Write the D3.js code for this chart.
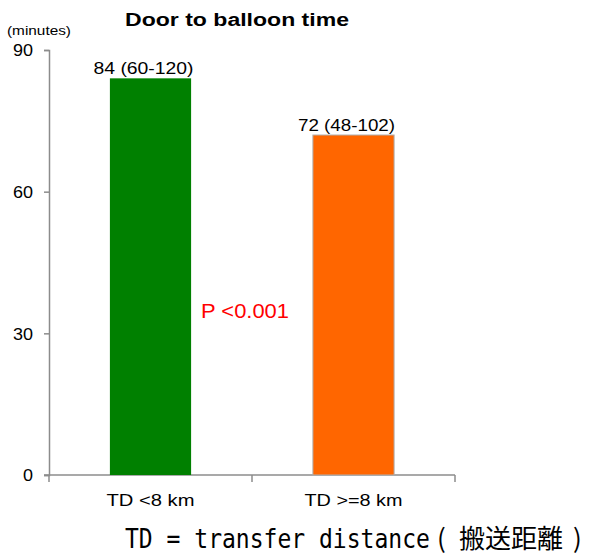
<!DOCTYPE html>
<html>
<head>
<meta charset="utf-8">
<script src="https://cdn.jsdelivr.net/npm/d3@7"></script>
<style>
  html, body { margin: 0; padding: 0; background: #fff; }
  svg { display: block; }
  text { font-family: "Liberation Sans", Arial, sans-serif; fill: #000; }
</style>
</head>
<body>
<div id="chart"></div>
<script>
// Door-to-balloon time by transfer distance
const categories = ["TD <8 km", "TD >=8 km"];
const medians = [84, 72];
const ranges = ["60-120", "48-102"];
const barColors = ["#008000", "#ff6600"];
const yTicks = [0, 30, 60, 90];
const title = "Door to balloon time";
const yUnit = "(minutes)";
const pValue = "P <0.001";
const footnoteLatin = "TD = transfer distance";
const footnoteOpen = "(";
const footnoteCJK = "搬送距離";
const footnoteClose = ")";

const W = 591, H = 554;
const svg = d3.select("#chart").append("svg").attr("width", W).attr("height", H);

const plot = { left: 49, right: 455, top: 50, bottom: 475 };

const y = d3.scaleLinear().domain([0, 90]).range([plot.bottom, plot.top]);
const x = d3.scaleBand().domain(categories).range([plot.left, plot.right])
  .paddingInner(0.6).paddingOuter(0.3);

const axisColor = "#8c8c8c";

// Y axis
const yAxis = svg.append("g")
  .attr("transform", `translate(${plot.left},0)`)
  .call(d3.axisLeft(y).tickValues(yTicks).tickSize(5).tickSizeOuter(5).tickPadding(11));
yAxis.select(".domain").attr("stroke", axisColor).attr("stroke-width", 1.5);
yAxis.selectAll(".tick line").attr("stroke", axisColor).attr("stroke-width", 1.5);
yAxis.selectAll(".tick text")
  .attr("font-size", 16)
  .attr("font-family", "Liberation Sans, Arial, sans-serif")
  .attr("fill", "#000")
  .attr("dy", "0.36em")
  .attr("textLength", d => String(d).length * 10)
  .attr("lengthAdjust", "spacingAndGlyphs");

// X axis: baseline with ticks at category boundaries
const bounds = [x.range()[0]].concat(
  categories.map(c => x(c) + x.bandwidth() + x.step() * x.paddingInner() / 2));
svg.append("line")
  .attr("x1", plot.left - 5).attr("x2", bounds[bounds.length - 1])
  .attr("y1", y(0)).attr("y2", y(0))
  .attr("stroke", axisColor).attr("stroke-width", 1.5);
svg.selectAll(".xtick").data(bounds).join("line")
  .attr("class", "xtick")
  .attr("x1", d => d).attr("x2", d => d)
  .attr("y1", y(0)).attr("y2", y(0) + 7)
  .attr("stroke", axisColor).attr("stroke-width", 1.5);

const catWidths = [88, 98];
svg.selectAll(".cat").data(categories).join("text")
  .attr("class", "cat")
  .attr("x", d => x(d) + x.bandwidth() / 2)
  .attr("y", 506)
  .attr("text-anchor", "middle")
  .attr("font-size", 16)
  .attr("textLength", (d, i) => catWidths[i])
  .attr("lengthAdjust", "spacingAndGlyphs")
  .text(d => d);

// Bars
svg.selectAll(".bar").data(categories).join("rect")
  .attr("class", "bar")
  .attr("x", d => x(d))
  .attr("width", x.bandwidth())
  .attr("y", (d, i) => y(medians[i]))
  .attr("height", (d, i) => y(0) - y(medians[i]))
  .attr("fill", (d, i) => barColors[i])
  .attr("stroke", (d, i) => i === 1 ? "#b0b0b0" : "none")
  .attr("stroke-width", 1);

// Value labels: median (range)
const valWidths = [100, 97];
svg.selectAll(".val").data(categories).join("text")
  .attr("class", "val")
  .attr("x", d => x(d) + x.bandwidth() / 2 - 7)
  .attr("y", (d, i) => y(medians[i]) - 4)
  .attr("text-anchor", "middle")
  .attr("font-size", 16)
  .attr("textLength", (d, i) => valWidths[i])
  .attr("lengthAdjust", "spacingAndGlyphs")
  .text((d, i) => `${medians[i]} (${ranges[i]})`);

// Title and unit
svg.append("text")
  .attr("x", 125).attr("y", 26)
  .attr("font-size", 18).attr("font-weight", "bold")
  .attr("textLength", 224).attr("lengthAdjust", "spacingAndGlyphs")
  .text(title);
svg.append("text")
  .attr("x", 7).attr("y", 35)
  .attr("font-size", 13)
  .attr("textLength", 64).attr("lengthAdjust", "spacingAndGlyphs")
  .text(yUnit);

// Significance
svg.append("text")
  .attr("x", 201).attr("y", 318)
  .attr("font-size", 21)
  .style("fill", "#ff0000")
  .attr("textLength", 88).attr("lengthAdjust", "spacingAndGlyphs")
  .text(pValue);

// Footnote: narrow monospaced latin, then the Japanese term in brackets
svg.append("text")
  .attr("transform", "translate(125,548) scale(0.853,1)")
  .style("font-family", "DejaVu Sans Mono, monospace")
  .attr("font-size", 27)
  .text(footnoteLatin);
const cjkFont = "Noto Sans CJK JP, sans-serif";
svg.append("text")
  .attr("x", 437).attr("y", 548)
  .style("font-family", cjkFont)
  .attr("font-size", 26)
  .text(footnoteOpen);
svg.append("text")
  .attr("x", 459).attr("y", 548)
  .style("font-family", cjkFont)
  .attr("font-size", 26)
  .text(footnoteCJK);
svg.append("text")
  .attr("x", 573).attr("y", 548)
  .style("font-family", cjkFont)
  .attr("font-size", 26)
  .text(footnoteClose);
</script>
</body>
</html>
